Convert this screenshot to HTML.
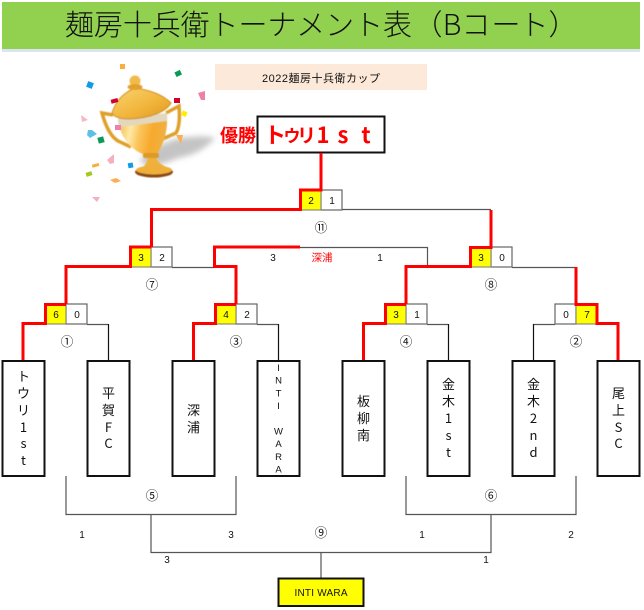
<!DOCTYPE html>
<html lang="ja">
<head>
<meta charset="utf-8">
<title>麺房十兵衛トーナメント表（Bコート）</title>
<style>
html,body{margin:0;padding:0;background:#fff;width:644px;height:610px;overflow:hidden}
svg{display:block}
text{font-family:"Liberation Sans","Noto Sans CJK JP",sans-serif;text-anchor:middle;fill:#111}
.h{font-size:29px;font-family:"Noto Sans CJK JP","Liberation Sans",sans-serif;font-weight:300}
.w{font-size:22px;font-weight:700;fill:#f00;font-family:"Noto Sans CJK JP",sans-serif}
.t{font-size:13px;font-family:"Noto Sans CJK JP","Liberation Sans",sans-serif}
.i{font-size:9.5px;font-family:"Liberation Sans","Noto Sans CJK JP",sans-serif}
.s{font-size:10px}
.c{font-size:12.5px;font-family:"Noto Sans CJK JP",sans-serif}
.g{fill:none;stroke:#555;stroke-width:1.2}
.b{fill:none;stroke:#111;stroke-width:1.2}
.r{fill:none;stroke:#f00;stroke-width:3;stroke-linejoin:miter}
.box{fill:#fff;stroke:#111;stroke-width:2}
.sc{fill:#fff;stroke:#666;stroke-width:1.2}
.y{fill:#ff0;stroke:#777;stroke-width:1}
</style>
</head>
<body>
<svg width="644" height="610" viewBox="0 0 644 610" xmlns="http://www.w3.org/2000/svg">
<defs>
<linearGradient id="cup" x1="0" y1="0" x2="1" y2="0.15"><stop offset="0" stop-color="#f0b53c"/><stop offset=".3" stop-color="#ffe9a6"/><stop offset=".5" stop-color="#fbc45a"/><stop offset=".75" stop-color="#f7a92c"/><stop offset="1" stop-color="#f0b040"/></linearGradient>
<linearGradient id="lid" x1="0" y1="0" x2="1" y2="1"><stop offset="0" stop-color="#f9d472"/><stop offset=".55" stop-color="#f2b63d"/><stop offset="1" stop-color="#dd981f"/></linearGradient>
<filter id="bl" x="-20%" y="-20%" width="140%" height="140%"><feGaussianBlur stdDeviation="3"/></filter>
<filter id="bs" x="-5%" y="-5%" width="110%" height="110%"><feGaussianBlur stdDeviation="0.4"/></filter>
</defs>

<!-- header -->
<rect x="2" y="2" width="638" height="47" fill="#92d050"/>
<rect x="2" y="49" width="638" height="3" fill="#dbe5f1"/>
<text class="h" x="65" y="35" style="text-anchor:start" textLength="347" lengthAdjust="spacing">麺房十兵衛トーナメント表</text>
<text class="h" x="428" y="35">（</text>
<text class="h" x="452" y="35">B</text>
<text class="h" x="476" y="35">コ</text>
<text class="h" x="506" y="35">ー</text>
<text class="h" x="534" y="35">ト</text>
<text class="h" x="563" y="35">）</text>

<!-- cup title -->
<rect x="215" y="64" width="212" height="26" fill="#fde9d9"/>
<text x="321" y="82" style="font-size:11px;font-family:'Liberation Sans','Noto Sans CJK JP',sans-serif" textLength="118" lengthAdjust="spacing">2022麺房十兵衛カップ</text>

<!-- trophy -->
<g>
<path d="M140,160 C150,150 170,137 190,137 C200,136 208,136 215,138 C207,147 196,155 178,158 C162,165 145,170 140,160Z" fill="#c4c4c4" filter="url(#bl)"/>
<g filter="url(#bs)">
<path d="M113,115 L102,113 C105,124 110,136 118,141 L131,147" fill="none" stroke="#dfa02a" stroke-width="3.500"/>
<path d="M166,113 L179,106 C180,118 179,128 176,133 L158,141" fill="none" stroke="#dfa02a" stroke-width="3.500"/>
<path d="M118,120 L167,115 C168,130 164,144 157,154 L145,155 C130,150 120,136 118,120Z" fill="url(#cup)"/>
<path d="M118,118 L167,113 L167,121 L119,127Z" fill="#e2d8bd"/>
<path d="M112,113 C116,100 125,92 135,88 C150,90 163,95 171,103 C166,112 150,118 130,119 C120,119 114,117 112,113Z" fill="url(#lid)" stroke="#d08f1f" stroke-width="1"/>
<circle cx="135" cy="81" r="5.500" fill="#f2ba48"/>
<ellipse cx="135" cy="87" rx="7.500" ry="3" fill="#e2a12d"/>
<rect x="143" y="153" width="16" height="5" rx="2" fill="#dc9a26"/>
<path d="M148,158 L156,158 C158,163 164,166 172,170 L136,172 C143,168 147,164 148,158Z" fill="#f0b13a"/>
<ellipse cx="154" cy="172" rx="19" ry="5.500" fill="#8a4a12"/>
<ellipse cx="154" cy="170" rx="18" ry="4.500" fill="#eeb03a"/>
</g>
</g>

<!-- confetti -->
<g>
<rect x="120" y="64" width="5" height="5" fill="#fbae3c"/>
<rect x="175" y="71" width="6" height="5" fill="#0a9a55" transform="rotate(-25 178 73)"/>
<rect x="87" y="82" width="6" height="6" fill="#0f9be8" transform="rotate(20 90 85)"/>
<polygon points="198,93 205,91 205,100 201,100" fill="#ee7fa6"/>
<rect x="111" y="99" width="7" height="4" fill="#d5002b" transform="rotate(-15 114 101)"/>
<rect x="174" y="98" width="6" height="5" fill="#d5002b"/>
<rect x="182" y="111" width="5" height="5" fill="#ffee00" transform="rotate(25 184 113)"/>
<polygon points="81,115 88,120 82,122" fill="#f5b9c6"/>
<rect x="115" y="125" width="6" height="5" fill="#ee7fb0"/>
<polygon points="88,130 92,130 97,134 90,138 87,135" fill="#5fc0e6"/>
<rect x="98" y="137" width="6" height="6" fill="#0a9a55" transform="rotate(-15 101 140)"/>
<polygon points="176,135 183,135 181,144" fill="#fbae52"/>
<polygon points="107,160 114,154 114,163 110,164" fill="#f5b0bd"/>
<rect x="92" y="164" width="7" height="3" fill="#fbae3c" transform="rotate(-15 95 165)"/>
<rect x="128" y="163" width="5" height="5" fill="#0f9be8" transform="rotate(-10 130 165)"/>
<rect x="86" y="172" width="6" height="4" fill="#a5c81e" transform="rotate(-18 89 174)"/>
<polygon points="110,180 116,178 121,181 115,183" fill="#fbae52"/>
<polygon points="92,197 100,197 97,202" fill="#f5b0bd"/>
</g>

<!-- winner -->
<text x="238" y="142" style="font-size:18px;font-weight:700;fill:#f00;font-family:'Noto Sans CJK JP',sans-serif">優勝</text>
<rect x="257.500" y="116.500" width="127" height="36" fill="#fff" stroke="#111" stroke-width="2"/>
<text class="w" x="275" y="143">ト</text>
<text class="w" x="292" y="142" style="font-size:17px">ウ</text>
<text class="w" x="306.500" y="142" style="font-size:19px">リ</text>
<text class="w" x="323" y="143">1</text>
<text class="w" x="343" y="143">s</text>
<text class="w" x="366" y="143">t</text>

<!-- grey/black connector lines -->
<path class="g" d="M342,209.500H491"/>
<path class="g" d="M300,247.500H427.500V267"/>
<path class="g" d="M172,267.500H214"/>
<path class="g" d="M512,267.500H575"/>
<path class="g" d="M87,324.500H108M257,324.500H278M427,324.500H448M533,324.500H555"/>
<path class="b" d="M108.500,324V361M278.500,324V361M448.500,324V361M533.500,324V361"/>
<path class="g" d="M66,476V514.500H236V476"/>
<path class="g" d="M406,476V514.500H576V476"/>
<path class="g" d="M151,514.500V552.500H491V514.500"/>
<path class="g" d="M321,552V578"/>

<!-- score boxes -->
<g>
<rect class="sc" x="321" y="190" width="21" height="20"/><rect class="sc" x="151" y="247" width="21" height="20"/>
<rect class="sc" x="491" y="247" width="21" height="20"/><rect class="sc" x="66" y="304" width="21" height="20"/>
<rect class="sc" x="236" y="304" width="21" height="20"/><rect class="sc" x="406" y="304" width="21" height="20"/>
<rect class="sc" x="555" y="304" width="21" height="20"/>
<rect class="y" x="300" y="190" width="21" height="20"/><rect class="y" x="130" y="247" width="21" height="20"/>
<rect class="y" x="470" y="247" width="21" height="20"/><rect class="y" x="45" y="304" width="21" height="20"/>
<rect class="y" x="215" y="304" width="21" height="20"/><rect class="y" x="385" y="304" width="21" height="20"/>
<rect class="y" x="576" y="304" width="21" height="20"/>
</g>

<!-- red winning path -->
<path class="r" d="M321,153V190H300.500V209.500H151.500V247.500"/>
<path class="r" d="M491,210V247.500H470.500V266.500H406V304"/>
<path class="r" d="M151,247H130.500V266.500H66V304"/>
<path class="r" d="M300,247H214.500V266.500H236V304"/>
<path class="r" d="M66,304.500H45.500V323.500H23V361"/>
<path class="r" d="M236,304.500H215.500V323.500H193.500V361"/>
<path class="r" d="M406,304.500H385.500V323.500H363.500V361"/>
<path class="r" d="M576,267V304.500H597V323.500H618V361"/>

<!-- scores -->
<g class="s">
<text class="s" x="311" y="204">2</text><text class="s" x="332" y="204">1</text>
<text class="s" x="141" y="261">3</text><text class="s" x="162" y="261">2</text>
<text class="s" x="481" y="261">3</text><text class="s" x="502" y="261">0</text>
<text class="s" x="56" y="318">6</text><text class="s" x="77" y="318">0</text>
<text class="s" x="226" y="318">4</text><text class="s" x="247" y="318">2</text>
<text class="s" x="396" y="318">3</text><text class="s" x="417" y="318">1</text>
<text class="s" x="566" y="318">0</text><text class="s" x="587" y="318">7</text>
<text class="s" x="273" y="261">3</text><text class="s" x="380" y="261">1</text>
<text class="s" x="82" y="538">1</text><text class="s" x="231" y="538">3</text>
<text class="s" x="422" y="538">1</text><text class="s" x="571" y="538">2</text>
<text class="s" x="167" y="563">3</text><text class="s" x="486" y="563">1</text>
</g>
<text x="322" y="261" style="font-size:10.5px;fill:#f00;font-family:'Noto Sans CJK JP',sans-serif">深浦</text>

<!-- round numbers -->
<text class="c" x="321" y="232">⑪</text>
<text class="c" x="152" y="289">⑦</text>
<text class="c" x="491" y="289">⑧</text>
<text class="c" x="67" y="346">①</text>
<text class="c" x="236" y="346">③</text>
<text class="c" x="406" y="346">④</text>
<text class="c" x="576" y="346">②</text>
<text class="c" x="152" y="500">⑤</text>
<text class="c" x="491" y="500">⑥</text>
<text class="c" x="321" y="537">⑨</text>

<!-- team boxes -->
<rect class="box" x="2.500" y="361" width="42" height="115"/>
<rect class="box" x="87.500" y="361" width="42" height="115"/>
<rect class="box" x="172.500" y="361" width="42" height="115"/>
<rect class="box" x="257.500" y="361" width="42" height="115"/>
<rect class="box" x="342.500" y="361" width="42" height="115"/>
<rect class="box" x="427.500" y="361" width="42" height="115"/>
<rect class="box" x="512.500" y="361" width="42" height="115"/>
<rect class="box" x="597.500" y="361" width="42" height="115"/>

<g>
<text class="t" x="23.500" y="381">ト</text><text class="t" x="23.500" y="398">ウ</text><text class="t" x="23.500" y="415">リ</text><text class="t" x="23.500" y="432">1</text><text class="t" x="23.500" y="448">s</text><text class="t" x="23.500" y="465">t</text>
<text class="t" x="108.500" y="398">平</text><text class="t" x="108.500" y="415">賀</text><text class="t" x="108.500" y="432">F</text><text class="t" x="108.500" y="448">C</text>
<text class="t" x="193.500" y="415">深</text><text class="t" x="193.500" y="432">浦</text>
<text class="i" x="278.500" y="371">I</text><text class="i" x="278.500" y="383.500">N</text><text class="i" x="278.500" y="396.500">T</text><text class="i" x="278.500" y="409">I</text><text class="i" x="278.500" y="434.500">W</text><text class="i" x="278.500" y="447">A</text><text class="i" x="278.500" y="460">R</text><text class="i" x="278.500" y="472.500">A</text>
<text class="t" x="363.500" y="406">板</text><text class="t" x="363.500" y="423">柳</text><text class="t" x="363.500" y="440">南</text>
<text class="t" x="448.500" y="389">金</text><text class="t" x="448.500" y="406">木</text><text class="t" x="448.500" y="423">1</text><text class="t" x="448.500" y="440">s</text><text class="t" x="448.500" y="457">t</text>
<text class="t" x="533.500" y="389">金</text><text class="t" x="533.500" y="406">木</text><text class="t" x="533.500" y="423">2</text><text class="t" x="533.500" y="440">n</text><text class="t" x="533.500" y="457">d</text>
<text class="t" x="618.500" y="398">尾</text><text class="t" x="618.500" y="415">上</text><text class="t" x="618.500" y="432">S</text><text class="t" x="618.500" y="448">C</text>
</g>

<!-- final winner -->
<rect x="278.500" y="578.500" width="85" height="27.500" fill="#ff0" stroke="#111" stroke-width="2"/>
<text x="321" y="596" style="font-size:10px" textLength="53" lengthAdjust="spacing">INTI WARA</text>
</svg>
</body>
</html>
